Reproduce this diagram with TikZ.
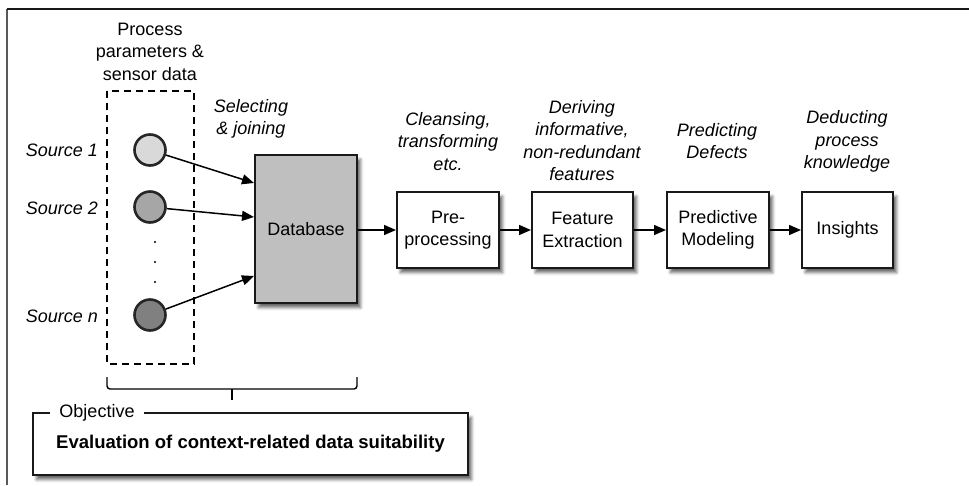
\documentclass[tikz,border=0pt]{standalone}
\usepackage{fontspec}
\setmainfont{Liberation Sans}
\usetikzlibrary{arrows.meta,shadows.blur,calc}
\begin{document}
\begin{tikzpicture}[x=1pt,y=-1pt,
  txt/.style={font=\fontsize{18}{22.5}\selectfont, align=center, inner sep=0pt},
  itxt/.style={txt, font=\fontsize{18}{22.5}\selectfont\itshape},
  box/.style={draw=black!90, line width=2pt, fill=white, minimum height=76pt, inner sep=0pt,
    font=\fontsize{18}{22.5}\selectfont, align=center,
    blur shadow={shadow xshift=3.5pt, shadow yshift=-4.5pt, shadow blur radius=3pt, shadow opacity=60}},
  src/.style={circle, draw=black!85, line width=2.6pt, minimum size=31pt, inner sep=0pt},
  arr/.style={line width=1.5pt, -{Triangle[length=12pt,width=10pt]}},
  dotn/.style={circle, fill=black, inner sep=0pt, minimum size=2.2pt}
]
\useasboundingbox (0,0) rectangle (969,485);
% frame
\draw[line width=1.6pt, black!65] (7,485) -- (7,9);
\draw[line width=1.4pt, black!90] (7,9) -- (969,9);

% header
\node[txt] (hdr) at (150,51.5) {Process\\parameters \&\\sensor data};
\draw[line width=1.4pt, dash pattern=on 7pt off 5pt] (107,91) rectangle (194,364);

% sources
\node[src, fill=black!15] (s1) at (150,150) {};
\node[src, fill=black!35] (s2) at (150,207) {};
\node[src, fill=black!50] (sn) at (150,315) {};
\node[dotn] (p1) at (155,242) {};
\node[dotn] (p2) at (155,262) {};
\node[dotn] (p3) at (155,282) {};
\node[itxt, anchor=east] (l1) at (98,150) {Source 1};
\node[itxt, anchor=east] (l2) at (98,208) {Source 2};
\node[itxt, anchor=east] (ln) at (98,316) {Source n};

% database
\node[box, fill=black!25, minimum width=102pt, minimum height=148pt] (db) at (306,229) {Database};
\node[itxt] (sel) at (251,119) {Selecting\\\& joining};
\coordinate (d1) at ($(db.west)+(0,-46)$);
\coordinate (d2) at ($(db.west)+(0,-12)$);
\coordinate (dn) at ($(db.west)+(0,47)$);
\draw[arr] (s1) -- (d1);
\draw[arr] (s2) -- (d2);
\draw[arr] (sn) -- (dn);

% pipeline
\node[box, minimum width=102pt] (pre) at (448,230) {Pre-\\processing};
\node[box, minimum width=101pt] (fe) at (582.5,230) {Feature\\Extraction};
\node[box, minimum width=102pt] (pm) at (718,230) {Predictive\\Modeling};
\node[box, minimum width=91pt] (ins) at (847.5,230) {Insights};
\draw[arr] (db.east |- pre) -- (pre);
\draw[arr] (pre) -- (fe);
\draw[arr] (fe) -- (pm);
\draw[arr] (pm) -- (ins);

\node[itxt] (c1) at (448,141.5) {Cleansing,\\transforming\\etc.};
\node[itxt] (c2) at (582,140.5) {Deriving\\informative,\\non-redundant\\features};
\node[itxt] (c3) at (717,141) {Predicting\\Defects};
\node[itxt] (c4) at (847,141.5) {Deducting\\process\\knowledge};

% bracket
\draw[line width=1.4pt, rounded corners=3pt] (107,377) -- (107,389) -- (357,389) -- (357,377);
\draw[line width=1.4pt] (232,389) -- (232,400);

% objective
\node[box, minimum width=435pt, minimum height=62pt, font=\fontsize{18.5}{22}\selectfont\bfseries] (obj) at (250.5,444) {Evaluation of context-related data suitability};
\node[txt, fill=white, inner xsep=9pt, inner ysep=2pt] (objt) at (97,413) {Objective};
\end{tikzpicture}
\end{document}
